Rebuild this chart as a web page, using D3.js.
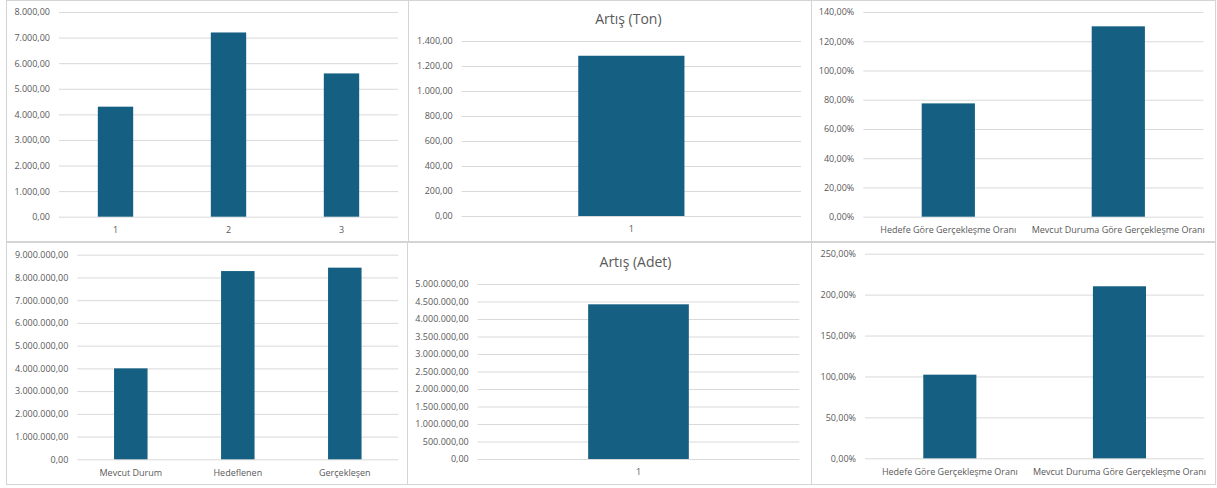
<!DOCTYPE html>
<html>
<head>
<meta charset="utf-8">
<script src="https://cdn.jsdelivr.net/npm/d3@7"></script>
<style>
    body { margin: 0; background: #fff; }
    svg text { font-family: "Open Sans", sans-serif; fill: #595959; }
</style>
</head>
<body>
<svg id="chart" width="1217" height="488"></svg>
<script>
// Data
const tonCats = ["1", "2", "3"];
const tonVals = [4300, 7200, 5600];
const tonTicks = [0, 1000, 2000, 3000, 4000, 5000, 6000, 7000, 8000];

const tonIncCats = ["1"];
const tonIncVals = [1282];
const tonIncTicks = [0, 200, 400, 600, 800, 1000, 1200, 1400];

const rateCats = ["Hedefe Göre Gerçekleşme Oranı", "Mevcut Duruma Göre Gerçekleşme Oranı"];
const tonRateVals = [0.775, 1.302];
const tonRateTicks = [0, 0.2, 0.4, 0.6, 0.8, 1.0, 1.2, 1.4];

const adetCats = ["Mevcut Durum", "Hedeflenen", "Gerçekleşen"];
const adetVals = [4000000, 8280000, 8430000];
const adetTicks = [0, 1e6, 2e6, 3e6, 4e6, 5e6, 6e6, 7e6, 8e6, 9e6];

const adetIncCats = ["1"];
const adetIncVals = [4420000];
const adetIncTicks = [0, 5e5, 1e6, 1.5e6, 2e6, 2.5e6, 3e6, 3.5e6, 4e6, 4.5e6, 5e6];

const adetRateVals = [1.022, 2.102];
const adetRateTicks = [0, 0.5, 1.0, 1.5, 2.0, 2.5];

// Turkish number format: 8.000,00
const tr = d3.formatLocale({
    decimal: ",",
    thousands: ".",
    grouping: [3],
    currency: ["", " ₺"],
    percent: "%"
});
const numFmt = tr.format(",.2f");
const pctFmt = tr.format(",.2%");

const barColor = "#156082";
const gridColor = "#d9d9d9";

var svg = d3.select("#chart");

// panel frames
const frames = [
    [6, 0, 402, 241], [408, 0, 403, 241], [811, 0, 404, 241],
    [6, 242, 401, 242], [407, 242, 404, 242], [811, 242, 404, 242]
];
svg.selectAll(".frame")
    .data(frames)
    .enter()
    .append("rect")
        .attr("class", "frame")
        .attr("x", d => d[0] + 0.5)
        .attr("y", d => d[1] + 0.5)
        .attr("width", d => d[2])
        .attr("height", d => d[3])
        .attr("fill", "none")
        .attr("stroke", "#d4d4d4");

function drawPanel(cats, vals, ticks, fmt, box, title){
    // box = [left, right, top(y of max tick), bottom(y of zero)]
    var x = d3.scaleBand()
        .domain(cats)
        .range([box[0], box[1]])
        .paddingInner(0.687)
        .paddingOuter(0.687 / 2);

    var y = d3.scaleLinear()
        .domain([0, ticks[ticks.length - 1]])
        .range([box[3], box[2]]);

    var g = svg.append("g");

    // grid + y labels
    var yAxis = g.append("g")
        .attr("transform", "translate(" + box[0] + ",0)")
        .call(
            d3.axisLeft(y)
                .tickValues(ticks)
                .tickSize(-(box[1] - box[0]))
                .tickPadding(9)
                .tickFormat(fmt)
        );
    yAxis.select(".domain").remove();
    yAxis.selectAll("line").attr("stroke", gridColor);
    yAxis.selectAll("text")
        .attr("fill", "#595959")
        .style("font-size", "9px");

    // bars
    g.selectAll(".bar")
        .data(vals)
        .enter()
        .append("rect")
            .attr("class", "bar")
            .attr("x", (d, i) => x(cats[i]))
            .attr("y", d => y(d))
            .attr("width", x.bandwidth())
            .attr("height", d => y(0) - y(d))
            .attr("fill", barColor);

    // category labels
    var xAxis = g.append("g")
        .attr("transform", "translate(0," + box[3] + ")")
        .call(d3.axisBottom(x).tickSize(0).tickPadding(10));
    xAxis.select(".domain").remove();
    xAxis.selectAll("text")
        .attr("fill", "#595959")
        .style("font-size", "9px");

    if (title) {
        g.append("text")
            .attr("x", (box[0] + box[1]) / 2 - 3)
            .attr("y", box[2] - 17)
            .attr("text-anchor", "middle")
            .style("font-size", "14px")
            .text(title);
    }
}

drawPanel(tonCats, tonVals, tonTicks, numFmt, [59, 398, 12, 216.7]);
drawPanel(tonIncCats, tonIncVals, tonIncTicks, numFmt, [461.7, 801, 41, 216], "Artış (Ton)");
drawPanel(rateCats, tonRateVals, tonRateTicks, pctFmt, [863.3, 1203.3, 12, 216.7]);
drawPanel(adetCats, adetVals, adetTicks, numFmt, [77.3, 398.3, 254.7, 459.3]);
drawPanel(adetIncCats, adetIncVals, adetIncTicks, numFmt, [477.7, 799.3, 284, 459], "Artış (Adet)");
drawPanel(rateCats, adetRateVals, adetRateTicks, pctFmt, [865, 1204.3, 253.7, 458.3]);
</script>
</body>
</html>
